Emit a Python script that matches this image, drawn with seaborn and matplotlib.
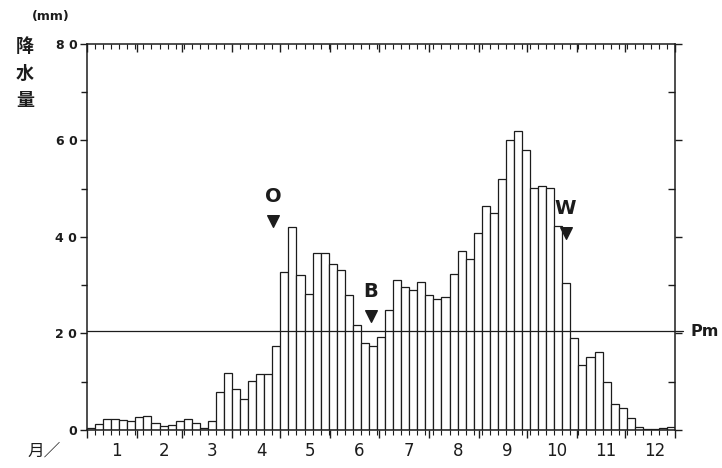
import numpy as np
import pandas as pd
import seaborn as sns
import matplotlib.pyplot as plt
from matplotlib.ticker import FixedLocator

# 半旬(5日)降水量, 73 半旬
precip = [0.5, 1.2, 2.3, 2.3, 2.0, 1.8, 2.6, 2.8, 1.4, 0.8,
          1.0, 1.8, 2.2, 1.4, 0.5, 1.9, 7.9, 11.9, 8.4, 6.4,
          10.2, 11.5, 11.5, 17.4, 32.8, 42.1, 32.1, 28.2, 36.6, 36.6,
          34.4, 33.2, 28.0, 21.8, 18.1, 17.4, 19.3, 24.9, 31.1, 29.7,
          29.0, 30.7, 28.0, 27.1, 27.6, 32.4, 37.0, 35.4, 40.9, 46.5,
          44.9, 52.0, 60.0, 62.0, 58.0, 50.1, 50.6, 50.1, 42.3, 30.4,
          19.0, 13.5, 15.2, 16.2, 10.0, 5.4, 4.5, 2.4, 0.7, 0.2,
          0.2, 0.5, 0.7]
pentads = list(range(1, 74))
month_labels = ['1', '2', '3', '4', '5', '6', '7', '8', '9', '10', '11', '12']
month_start_day = [0, 31, 59, 90, 120, 151, 181, 212, 243, 273, 304, 334, 365]
pm_value = 20.5
y_ticks = [0, 20, 40, 60, 80]
y_ticklabels = ['0', '2 0', '4 0', '6 0', '8 0']
# 記号: O (梅雨入り), B (中休み), W (秋雨終わり)
marks = ['O', 'B', 'W']
mark_pos = [22.6, 34.7, 58.9]
mark_y = [43.3, 23.6, 40.8]

df = pd.DataFrame({'pentad': pentads, 'precip': precip})

sns.set_style('white')
plt.rcParams['font.family'] = ['DejaVu Sans', 'Noto Sans CJK JP']
ink = '#1c1c1c'

fig = plt.figure(figsize=(7.22, 4.68), dpi=100)
ax = fig.add_axes([0.1205, 0.0812, 0.8145, 0.825])

sns.barplot(data=df, x='pentad', y='precip', color='white', edgecolor=ink,
            linewidth=0.9, width=1.0, saturation=1, ax=ax)

ax.set_xlim(-0.5, 72.5)
ax.set_ylim(0, 80)
ax.axhline(pm_value, color=ink, lw=0.9)
ax.plot([72.5, 73.5], [pm_value, pm_value], color=ink, lw=0.9, clip_on=False)
ax.text(74.4, pm_value, 'Pm', fontsize=11.5, fontweight='bold', color=ink,
        va='center', ha='left')

for s in ax.spines.values():
    s.set_color(ink)
    s.set_linewidth(1.1)

# x 軸: 月境界(長い目盛)と半旬(短い目盛)
bounds = [d / 5 - 0.5 for d in month_start_day]
centers = [(a + b) / 2 for a, b in zip(bounds[:-1], bounds[1:])]
ax.xaxis.set_major_locator(FixedLocator(bounds))
ax.xaxis.set_minor_locator(FixedLocator([p - 0.5 for p in range(74)]))
ax.set_xticklabels([])
ax.tick_params(axis='x', which='major', direction='out', length=6, width=1,
               color=ink, top=True, bottom=True)
ax.tick_params(axis='x', which='minor', direction='out', length=3.5, width=0.8,
               color=ink, top=True, bottom=True)

for c, m in zip(centers, month_labels):
    ax.text(c + 0.6, -2.4, m, fontsize=12, color=ink, ha='center', va='top')
ax.text(-5.8, -2.4, '月／', fontsize=12, color=ink, ha='center', va='top')

# y 軸
ax.set_yticks(y_ticks)
ax.set_yticklabels(y_ticklabels, fontsize=9, fontweight='bold', color=ink)
ax.yaxis.set_minor_locator(FixedLocator([10, 30, 50, 70]))
ax.tick_params(axis='y', which='major', direction='out', length=5, width=1,
               color=ink, left=True, right=True, pad=2)
ax.tick_params(axis='y', which='minor', direction='out', length=4, width=1,
               color=ink, left=True, right=True)
ax.set_xlabel('')
ax.set_ylabel('')

# 上辺の目盛は内向き, 右辺の小目盛は内向き
for t in ax.xaxis.get_major_ticks():
    t.tick2line.set_marker(3)
    t.tick2line.set_markersize(6)
for t in ax.xaxis.get_minor_ticks():
    t.tick2line.set_marker(3)
    t.tick2line.set_markersize(3.5)
for t in ax.yaxis.get_minor_ticks():
    t.tick2line.set_marker(0)
    t.tick2line.set_markersize(5)

ax.text(-5.0, 84.3, '(mm)', fontsize=9, fontweight='bold', color=ink,
        ha='center', va='bottom')
for i, ch in enumerate('降水量'):
    ax.text(-8.2, 79.5 - i * 5.6, ch, fontsize=13, fontweight='bold',
            color=ink, ha='center', va='center',
            family=['Noto Sans CJK JP', 'DejaVu Sans'])

for m, xp, yp in zip(marks, mark_pos, mark_y):
    ax.text(xp, yp + 5.0, m, fontsize=14, fontweight='bold', color=ink,
            ha='center', va='center')
    ax.scatter([xp], [yp], marker='v', s=70, color=ink, zorder=5)

fig.savefig('out.png', dpi=100, facecolor='white')
